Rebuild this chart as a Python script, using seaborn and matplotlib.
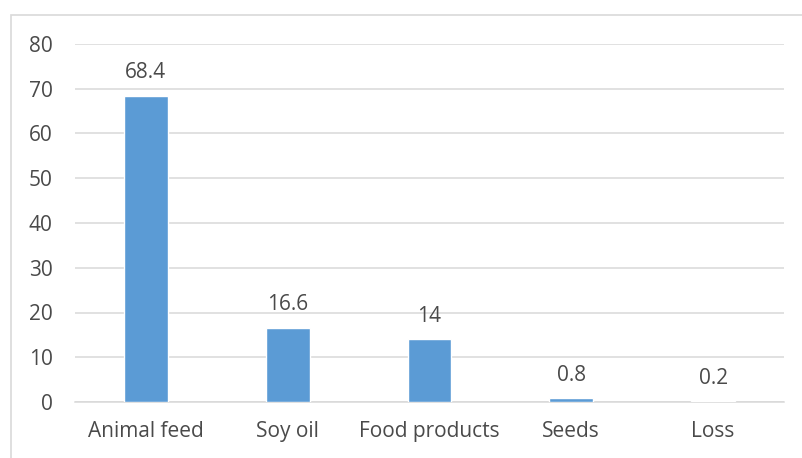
import matplotlib
matplotlib.use("Agg")
import matplotlib.pyplot as plt
from matplotlib.patches import Rectangle
import seaborn as sns
import pandas as pd

categories = ["Animal feed", "Soy oil", "Food products", "Seeds", "Loss"]
values = [68.4, 16.6, 14, 0.8, 0.2]
value_labels = ["68.4", "16.6", "14", "0.8", "0.2"]
y_ticks = [0, 10, 20, 30, 40, 50, 60, 70, 80]

sns.set_theme(style="white")
plt.rcParams["font.family"] = ["Open Sans", "DejaVu Sans"]

text_color = "#4A4A4A"
grid_color = "#D9D9D9"
bar_color = "#5B9BD5"
font_size = 15

df = pd.DataFrame({"category": categories, "value": values})

fig = plt.figure(figsize=(8.03, 4.58), dpi=100)
ax = fig.add_axes([75 / 803, 1 - 402 / 458, (784 - 75) / 803, (402 - 44) / 458])

sns.barplot(data=df, x="category", y="value", color=bar_color, width=0.31,
            saturation=1, ax=ax, zorder=3)

ax.set_ylim(0, 80)
ax.set_yticks(y_ticks)
ax.set_yticklabels([str(t) for t in y_ticks])
ax.set_xlim(-0.5, len(categories) - 0.5)
ax.set_xlabel("")
ax.set_ylabel("")
ax.yaxis.grid(True, color=grid_color, linewidth=1.1, zorder=0)
ax.set_axisbelow(True)
for side in ["top", "right", "left"]:
    ax.spines[side].set_visible(False)
ax.spines["bottom"].set_color(grid_color)
ax.spines["bottom"].set_linewidth(1.1)
ax.tick_params(axis="both", length=0, colors=text_color, labelsize=font_size)
ax.tick_params(axis="y", pad=16)
ax.tick_params(axis="x", pad=14)

for i, (v, lab) in enumerate(zip(values, value_labels)):
    ax.annotate(lab, xy=(i, v), xytext=(0, 9), textcoords="offset points",
                ha="center", va="bottom", fontsize=font_size, color=text_color)

# light frame around the chart area
fig.patches.append(Rectangle((11 / 803, -0.1), 1.0, 1 - 15 / 458 + 0.1,
                             transform=fig.transFigure, fill=False,
                             edgecolor=grid_color, linewidth=1.2))

fig.savefig("out.png", dpi=100, facecolor="white")
